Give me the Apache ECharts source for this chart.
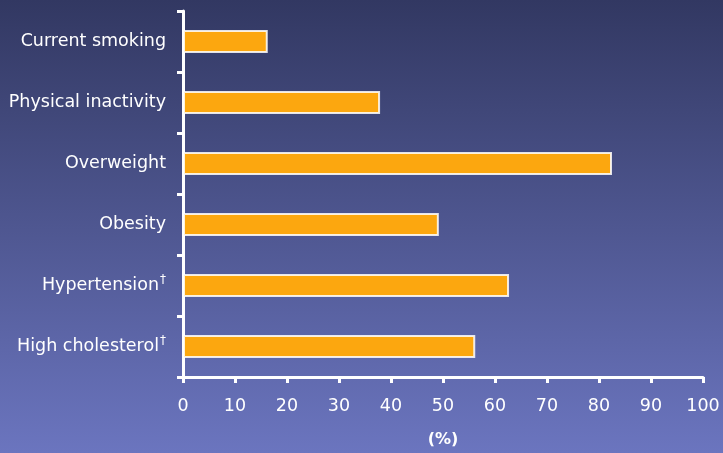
<!DOCTYPE html>
<html><head><meta charset="utf-8">
<script src="https://cdn.jsdelivr.net/npm/echarts@6/dist/echarts.min.js"></script>
<style>html,body{margin:0;padding:0;}#c{width:723px;height:453px;}</style>
</head><body><div id="c"></div>
<script>
const categories = ['Current smoking', 'Physical inactivity', 'Overweight', 'Obesity', 'Hypertension', 'High cholesterol'];
const daggers = [false, false, false, false, true, true];
const values = [16.3, 37.9, 82.5, 49.2, 62.7, 56.2];
const xTicks = [0, 10, 20, 30, 40, 50, 60, 70, 80, 90, 100];

const chart = echarts.init(document.getElementById('c'));
const font = 'DejaVu Sans, sans-serif';
chart.setOption({
  backgroundColor: new echarts.graphic.LinearGradient(0, 0, 0, 1, [
    {offset: 0, color: '#323862'},
    {offset: 1, color: '#6b75bf'}
  ]),
  animation: false,
  grid: {left: 183, right: 20, top: 11, bottom: 72},
  xAxis: {
    type: 'value', min: xTicks[0], max: xTicks[xTicks.length - 1], interval: 10,
    name: '(%)', nameLocation: 'middle', nameGap: 55,
    nameTextStyle: {color: '#fff', fontSize: 16, fontWeight: 'bold', fontFamily: font},
    axisLine: {show: true, lineStyle: {color: '#fff', width: 3}},
    axisTick: {show: true, length: 6, lineStyle: {color: '#fff', width: 3}},
    axisLabel: {color: '#fff', fontSize: 17.5, fontFamily: font, margin: 20},
    splitLine: {show: false}
  },
  yAxis: {
    type: 'category', data: categories, inverse: true,
    axisLine: {show: true, lineStyle: {color: '#fff', width: 3}},
    axisTick: {show: true, length: 6, lineStyle: {color: '#fff', width: 3}},
    axisLabel: {
      color: '#fff', fontSize: 17.5, fontFamily: font, margin: 17,
      formatter: function (v) {
        const i = categories.indexOf(v);
        return daggers[i] ? v + '{s|†}' : v;
      },
      rich: {s: {color: '#fff', fontSize: 12, fontFamily: font, verticalAlign: 'top', padding: [0, 0, 12, 1]}}
    }
  },
  series: [{
    type: 'bar', data: values, barCategoryGap: '62%',
    itemStyle: {color: '#fca70f', borderColor: 'rgba(255,255,255,0.85)', borderWidth: 2}
  }]
});
</script></body></html>
